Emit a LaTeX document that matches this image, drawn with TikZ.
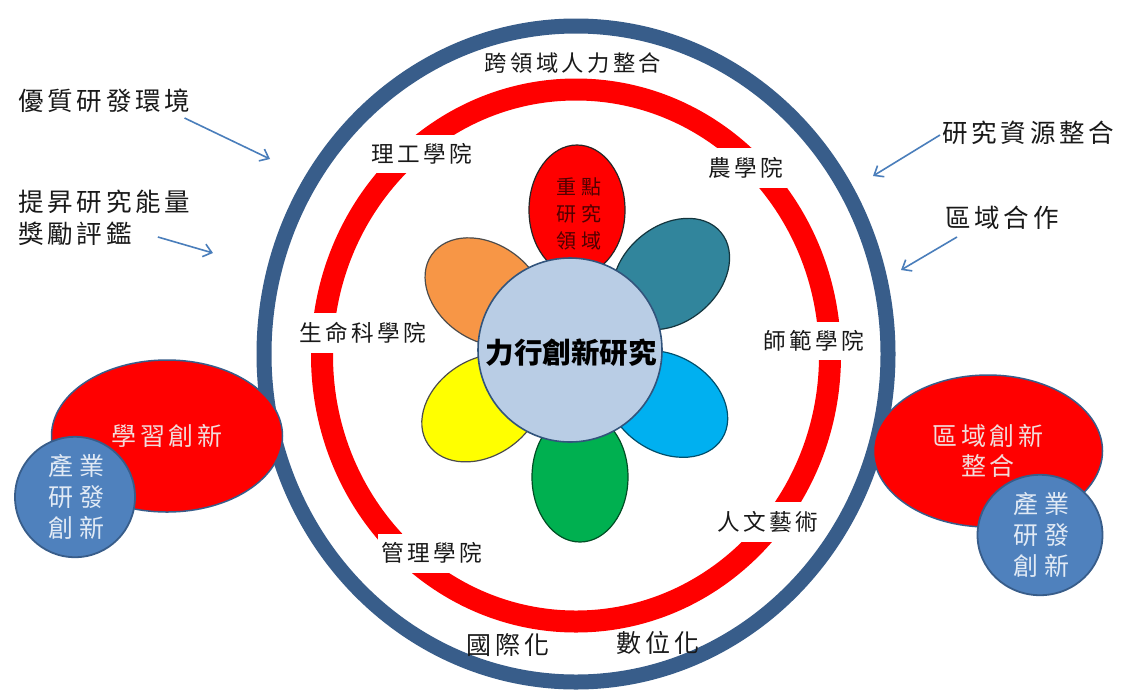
\documentclass[tikz,border=0pt]{standalone}
\usepackage{fontspec}
\newfontfamily\cjk[LetterSpace=15]{Noto Sans CJK TC}
\newfontfamily\cjkw[LetterSpace=25]{Noto Sans CJK TC}
\newfontfamily\cjkc{Noto Sans CJK TC}
\usetikzlibrary{arrows.meta,shapes.geometric}
\definecolor{ringblue}{RGB}{56,93,138}
\definecolor{ringred}{RGB}{255,0,0}
\definecolor{arrowblue}{RGB}{74,126,187}
\definecolor{circblue}{RGB}{79,129,189}
\definecolor{edgeblue}{RGB}{56,93,138}
\definecolor{petalorange}{RGB}{247,150,70}
\definecolor{petalteal}{RGB}{49,133,156}
\definecolor{petalyellow}{RGB}{255,255,0}
\definecolor{petalsky}{RGB}{0,176,240}
\definecolor{petalgreen}{RGB}{0,176,80}
\definecolor{centerfill}{RGB}{185,205,229}
\definecolor{pinktext}{RGB}{242,220,219}
\definecolor{paletext}{RGB}{225,234,245}
\definecolor{darkred}{RGB}{80,0,0}
\definecolor{ink}{RGB}{25,25,25}
\begin{document}
\begin{tikzpicture}[x=1pt,y=-1pt,
  txt/.style={inner sep=0pt, text=ink, font=\cjk\fontsize{25.5}{33}\selectfont},
  ringlab/.style={fill=white, inner xsep=4pt, inner ysep=9pt, text=ink, font=\cjk\fontsize{22.6}{26}\selectfont},
  midlab/.style={inner sep=0pt, text=ink, font=\cjk\fontsize{25}{30}\selectfont},
  petal/.style={ellipse, draw=black!70, line width=1.2pt, inner sep=0pt, minimum width=130pt, minimum height=96pt},
  redell/.style={ellipse, fill=ringred, draw=edgeblue, line width=1.5pt, inner sep=0pt, align=center, text=pinktext, font=\cjk\fontsize{25}{30}\selectfont},
  bluecirc/.style={ellipse, fill=circblue, draw=edgeblue, line width=1.8pt, inner sep=0pt, align=center, text=paletext, font=\cjkw\fontsize{25}{31}\selectfont},
  arr/.style={draw=arrowblue, line width=1.6pt, -{Straight Barb[length=8pt,width=13pt]}}
]
\useasboundingbox (0,0) rectangle (1124,689);
\fill[white] (0,0) rectangle (1124,689);

% rings
\draw[ringblue, line width=15pt] (576,354) ellipse [x radius=312, y radius=328];
\draw[ringred, line width=22pt] (576,355.5) ellipse [x radius=254, y radius=266];

% ring labels
\node[txt, font=\cjk\fontsize{22.3}{26}\selectfont] (cross) at (573,63) {跨領域人力整合};
\node[ringlab] (sci) at (422,154) {理工學院};
\node[ringlab] (agr) at (746,168) {農學院};
\node[ringlab] (life) at (363,333) {生命科學院};
\node[ringlab] (edu) at (814,341) {師範學院};
\node[ringlab] (art) at (768,522) {人文藝術};
\node[ringlab] (mgmt) at (432,553) {管理學院};
\node[midlab] (intl) at (508,645) {國際化};
\node[midlab] (digi) at (658,643) {數位化};

% flower
\node[petal, fill=petalorange, rotate=-35] (po) at (485,292) {};
\node[petal, fill=petalteal, draw=black!60!petalteal, rotate=40] (pt) at (671,274) {};
\node[petal, fill=petalyellow, rotate=34] (py) at (482,408) {};
\node[petal, fill=petalsky, draw=black!55!petalsky, rotate=-32] (ps) at (667,404) {};
\node[petal, fill=petalgreen, draw=black!55!petalgreen, rotate=90] (pg) at (580,477) {};
\node[petal, fill=ringred, draw=black!85, rotate=90] (pr) at (577,210) {};
\node[align=center, inner sep=0pt, text=darkred, font=\cjkw\fontsize{20}{27}\selectfont] (key) at (579,214) {重點\\研究\\領域};
\node[circle, fill=centerfill, draw=edgeblue!90!black, line width=1.6pt, minimum size=184pt, inner sep=0pt] (core) at (570,350) {};
\node[inner sep=0pt, text=black, font=\cjkc\bfseries\fontsize{28.5}{33}\selectfont] (coretxt) at (571,353) {力行創新研究};

% side groups
\node[redell, minimum width=231pt, minimum height=152pt] (learn) at (167,436) {學習創新};
\node[bluecirc, minimum width=120pt, minimum height=111pt] (ind1) at (75,497) {\hspace*{3pt}產業\\\hspace*{3pt}研發\\\hspace*{3pt}創新};
\node[redell, minimum width=229pt, minimum height=152pt] (region) at (988,451) {區域創新\\整合};
\node[bluecirc, minimum width=125pt, minimum height=110pt] (ind2) at (1040,535) {\hspace*{3pt}產業\\\hspace*{3pt}研發\\\hspace*{3pt}創新};

% side texts
\node[txt, anchor=west] (env) at (18,101) {優質研發環境};
\node[txt, anchor=west] (boost) at (18,202) {提昇研究能量};
\node[txt, anchor=west] (award) at (18,234) {獎勵評鑑};
\node[txt, anchor=west] (res) at (942,133) {研究資源整合};
\node[txt, anchor=west] (coop) at (945,218) {區域合作};

% arrow targets
\coordinate (a1) at (270,159);
\coordinate (a2) at (213,253);
\coordinate (a3) at (873,176);
\coordinate (a4) at (901,270);

\draw[arr] ([xshift=-6pt,yshift=-17pt]env.east) -- (a1);
\draw[arr] ([xshift=26pt,yshift=-3pt]award.east) -- (a2);
\draw[arr] ([xshift=-2pt,yshift=-2pt]res.west) -- (a3);
\draw[arr] ([xshift=12pt,yshift=-19pt]coop.west) -- (a4);
\end{tikzpicture}
\end{document}
